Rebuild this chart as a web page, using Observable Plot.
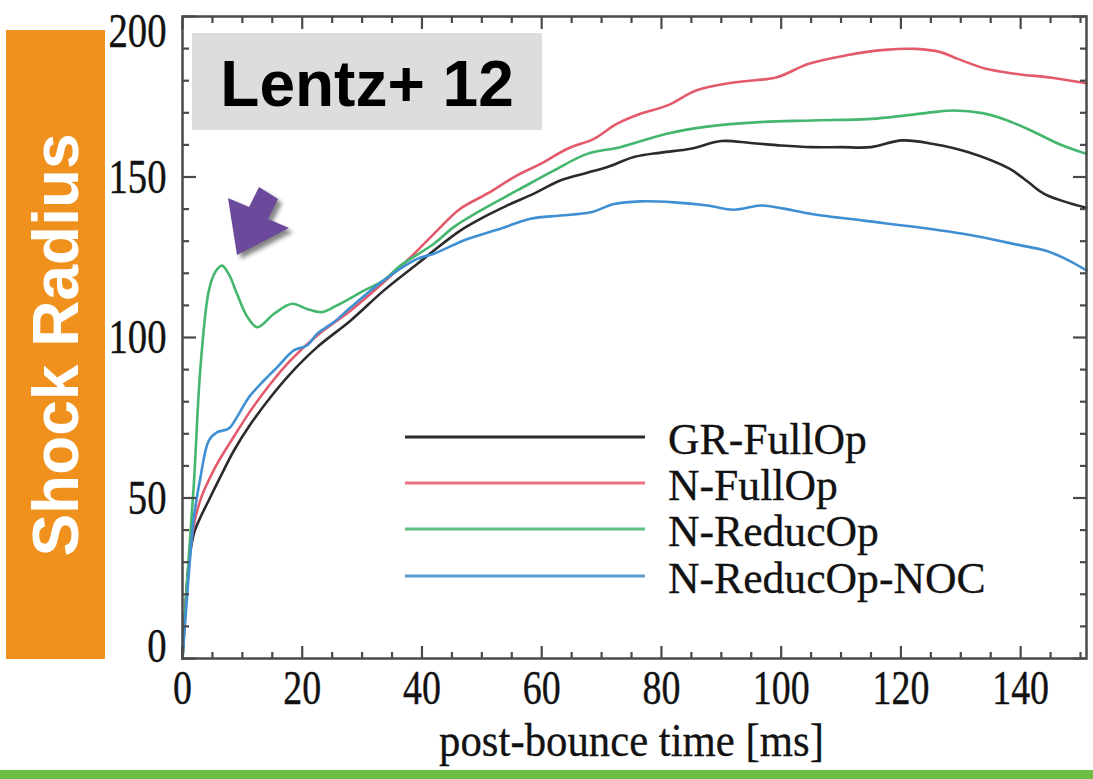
<!DOCTYPE html>
<html>
<head>
<meta charset="utf-8">
<script src="https://cdn.jsdelivr.net/npm/d3@7"></script>
<script src="https://cdn.jsdelivr.net/npm/@observablehq/plot@0.6"></script>
<style>
html, body { margin: 0; padding: 0; background: #fff; }
#wrap { position: relative; width: 1093px; height: 779px; overflow: hidden; background: #fff; }
#chart { position: absolute; left: 0; top: 0; }
#ylabbox { position: absolute; left: 6px; top: 30px; width: 99px; height: 629px; background: #F0911D; }
#ylabbox span { position: absolute; left: 50%; top: 50%; transform: translate(-50%, -50%) rotate(-90deg);
  white-space: nowrap; color: #fff; font: bold 64px "Liberation Sans", Arial, sans-serif; }
#titlebox { position: absolute; left: 192px; top: 33px; width: 350px; height: 97px; background: #DCDDDF;
  text-align: center; font: bold 64px "Liberation Sans", Arial, sans-serif; color: #000; line-height: 97px; padding-top: 3px; box-sizing: border-box; }
#greenbar { position: absolute; left: 0; top: 770px; width: 1093px; height: 9px; background: #6DBF44; }
#overlay { position: absolute; left: 0; top: 0; pointer-events: none; }
</style>
</head>
<body>
<div id="wrap">
  <div id="chart"></div>
  <div id="ylabbox"><span>Shock Radius</span></div>
  <div id="titlebox">Lentz+ 12</div>
  <div id="greenbar"></div>
  <svg id="overlay" width="1093" height="779"></svg>
</div>
<script>
// ---- series names / colours ----
const seriesNames = ["GR-FullOp", "N-FullOp", "N-ReducOp", "N-ReducOp-NOC"];
const seriesColors = ["#2b2b2b", "#e35a6b", "#45b66e", "#3f8fd2"];

// ---- data (post-bounce time [ms], shock radius) ----
const grT = [0, 0.3, 0.7, 1.2, 2.0, 3.0, 4.1, 6.3, 8.6, 11.4, 14.7, 18.0, 22.5, 28.1, 33.6, 39.2, 42, 46.4, 50.3, 54.2, 58.7, 63.1, 67.6, 71, 75.4, 79.9, 84.9, 90, 94.9, 100, 105.1, 110, 115, 120.2, 125.4, 131.3, 138.2, 141.2, 144.1, 151];
const grR = [0, 10, 22, 32, 39.5, 44, 48.2, 56.5, 64.8, 73.1, 81.4, 88.7, 97, 105.3, 114.6, 122.9, 127.1, 133.3, 137.5, 141.1, 144.8, 148.9, 151.3, 153.1, 156.2, 157.6, 158.8, 161.2, 160.6, 159.8, 159.3, 159.3, 159.3, 161.4, 160.3, 157.7, 152.5, 148.5, 144.6, 140.4];

const nfT = [0, 0.4, 0.9, 1.5, 2.3, 3.2, 4.1, 5.8, 8.0, 11.4, 14.7, 18.0, 22.5, 28.1, 33.6, 38.1, 42, 46.4, 50.9, 55.9, 59.8, 64.3, 68.7, 72.6, 76.5, 81, 85.9, 92.3, 99.3, 104.5, 110.9, 117.3, 122.5, 126.6, 129.5, 134.2, 139.4, 145.2, 151];
const nfR = [0, 12, 26, 37, 45, 50.5, 54.4, 60.7, 67.4, 77.3, 85.6, 92.8, 100.6, 108.4, 117.2, 125, 132.3, 140.1, 144.8, 150.5, 154.1, 158.8, 161.9, 166.6, 169.7, 172.3, 177, 179.5, 181.1, 185.2, 187.9, 189.6, 189.9, 188.9, 186.8, 183.7, 182.1, 180.9, 179.2];

const nrT = [0, 0.8, 1.9, 3.0, 4.4, 5.5, 6.6, 7.8, 9.1, 10.8, 12.5, 15.3, 18.3, 20.8, 23.3, 25.8, 30.3, 33.6, 36.4, 42, 45.3, 50.3, 55.9, 62, 67.6, 73.1, 80.7, 87.6, 96.4, 105.1, 115, 120.8, 125.4, 128.9, 133.6, 137.1, 141.7, 146.4, 151];
const nrR = [0, 25, 54.5, 90.7, 114.6, 120.5, 122.4, 119.5, 113.6, 106.5, 103.2, 107.4, 110.5, 108.9, 107.9, 110, 114.6, 117.8, 122.4, 129.2, 134.4, 140.1, 145.8, 152, 157.2, 159.3, 163.4, 165.7, 167.1, 167.6, 168.1, 169.2, 170.2, 170.7, 169.9, 168.1, 164.5, 160.3, 157.2];

const ncT = [0, 1.0, 1.9, 3.0, 4.4, 5.8, 7.7, 9.1, 11.1, 13.6, 15.8, 18.6, 20.8, 22.5, 25.3, 28.1, 33.6, 39.2, 42, 47.6, 53.1, 58.1, 63.1, 68.2, 72.1, 76.5, 82.1, 87.7, 92.1, 96.6, 100, 105.1, 113.8, 122.5, 131.3, 140, 144.1, 147.5, 151];
const ncR = [0, 25, 44, 56.5, 67.9, 70.5, 71.6, 75.2, 81.4, 86.6, 90.7, 96, 97.5, 101.2, 104.8, 109.4, 117.8, 124.5, 126.1, 130.7, 133.9, 137, 138, 139, 141.6, 142.4, 142.1, 141.1, 139.8, 141.1, 140.3, 138.5, 136.4, 134.4, 132, 128.7, 127.1, 124.5, 120.9];

// ---- ticks ----
const xMajorTicks = [0, 20, 40, 60, 80, 100, 120, 140];
const xTickLabels = ["0", "20", "40", "60", "80", "100", "120", "140"];
const xMinorTicks = [5, 10, 15, 25, 30, 35, 45, 50, 55, 65, 70, 75, 85, 90, 95, 105, 110, 115, 125, 130, 135, 145, 150];
const yMajorTicks = [0, 50, 100, 150, 200];
const yTickLabels = ["0", "50", "100", "150", "200"];
const yMinorTicks = [10, 20, 30, 40, 60, 70, 80, 90, 110, 120, 130, 140, 160, 170, 180, 190];

const xTitle = "post-bounce time [ms]";

const seriesT = [grT, nfT, nrT, ncT];
const seriesR = [grR, nfR, nrR, ncR];
const rows = seriesNames.flatMap((name, k) => seriesT[k].map((t, i) => ({series: name, t, r: seriesR[k][i]})));

const serif = "'Liberation Serif', 'Times New Roman', serif";
const axisColor = "#4a4a4a";
const textColor = "#121212";

const yLab = yMajorTicks.map((v, i) => ({v, label: yTickLabels[i]}));
const xLab = xMajorTicks.map((v, i) => ({v, label: xTickLabels[i]}));

const marks = [
  Plot.line(rows, {x: "t", y: "r", z: "series", stroke: "series", strokeWidth: 2.6, curve: "catmull-rom"}),
  Plot.frame({stroke: axisColor, strokeWidth: 2.5})
];
for (const anchor of ["bottom", "top"]) {
  marks.push(Plot.axisX(xMajorTicks, {anchor, tickSize: -12, fill: "none", label: null, stroke: axisColor, strokeWidth: 2.2}));
  marks.push(Plot.axisX(xMinorTicks, {anchor, tickSize: -6, fill: "none", label: null, stroke: axisColor, strokeWidth: 2.2}));
}
for (const anchor of ["left", "right"]) {
  marks.push(Plot.axisY(yMajorTicks, {anchor, tickSize: -14, fill: "none", label: null, stroke: axisColor, strokeWidth: 2.2}));
  marks.push(Plot.axisY(yMinorTicks, {anchor, tickSize: -7, fill: "none", label: null, stroke: axisColor, strokeWidth: 2.2}));
}
const textStyle = {fontFamily: serif, fontSize: 49, fill: textColor, stroke: textColor, strokeWidth: 0.4};
marks.push(
  Plot.text(xLab, {x: "v", text: "label", frameAnchor: "bottom", dy: 30, lineAnchor: "middle", ...textStyle, fontSize: 48}),
  Plot.text(yLab.filter(d => d.v > 0 && d.v < 200), {y: "v", text: "label", frameAnchor: "left", dx: -16, textAnchor: "end", lineAnchor: "middle", ...textStyle}),
  Plot.text(yLab.filter(d => d.v === 0), {y: "v", text: "label", frameAnchor: "left", dx: -16, dy: -12, textAnchor: "end", lineAnchor: "middle", ...textStyle}),
  Plot.text(yLab.filter(d => d.v === 200), {y: "v", text: "label", frameAnchor: "left", dx: -16, dy: 15, textAnchor: "end", lineAnchor: "middle", ...textStyle}),
  Plot.text([xTitle], {text: d => d, frameAnchor: "bottom", dx: -3, dy: 83, lineAnchor: "middle",
    fontFamily: serif, fontSize: 46, fill: textColor, stroke: textColor, strokeWidth: 0.3})
);

const chart = Plot.plot({
  width: 1093, height: 779,
  marginLeft: 182, marginRight: 7, marginTop: 16, marginBottom: 121,
  x: {domain: [0, 151], axis: null},
  y: {domain: [0, 200], axis: null},
  color: {domain: seriesNames, range: seriesColors},
  style: {background: "transparent", overflow: "visible"},
  marks
});
document.getElementById("chart").appendChild(chart);

// horizontally condense the serif labels (the reference uses a narrow serif face)
const NS = "http://www.w3.org/2000/svg";
Array.from(chart.querySelectorAll("text")).forEach(t => {
  const s = t.textContent === xTitle ? 0.93 : 0.79;
  const anchor = getComputedStyle(t).textAnchor;
  const r = t.getBoundingClientRect();
  const sx = anchor === "end" ? r.right : anchor === "start" ? r.left : (r.left + r.right) / 2;
  const parent = t.parentNode;
  const m = parent.getScreenCTM().inverse();
  const p = new DOMPoint(sx, r.top).matrixTransform(m);
  const g = document.createElementNS(NS, "g");
  g.setAttribute("transform", `translate(${p.x},0) scale(${s},1) translate(${-p.x},0)`);
  parent.insertBefore(g, t);
  g.appendChild(t);
});

// ---- overlay: arrow annotation and legend ----
const ov = d3.select("#overlay");
const defs = ov.append("defs");
defs.append("filter").attr("id", "blur").attr("x", "-50%").attr("y", "-50%").attr("width", "200%").attr("height", "200%")
  .append("feGaussianBlur").attr("stdDeviation", 2.2);
const arrowPts = "237,255 228,198 249,207 259,187 278,199 268,219 289,228";
ov.append("polygon").attr("points", arrowPts).attr("transform", "translate(4,4)")
  .attr("fill", "#222").attr("opacity", 0.55).attr("filter", "url(#blur)");
ov.append("polygon").attr("points", arrowPts).attr("fill", "#6C4A9B");

const legendY = [437, 483, 529, 576];
const lg = ov.append("g");
seriesNames.forEach((name, i) => {
  lg.append("line").attr("x1", 405).attr("x2", 645).attr("y1", legendY[i]).attr("y2", legendY[i])
    .attr("stroke", seriesColors[i]).attr("stroke-width", 2.8).attr("opacity", i === 0 ? 1 : 0.85);
  lg.append("text").attr("x", 668 / 0.97).attr("y", legendY[i] + 17).attr("transform", "scale(0.97,1)")
    .attr("font-family", serif).attr("font-size", 45).attr("fill", textColor)
    .attr("stroke", textColor).attr("stroke-width", 0.3).text(name);
});
</script>
</body>
</html>
